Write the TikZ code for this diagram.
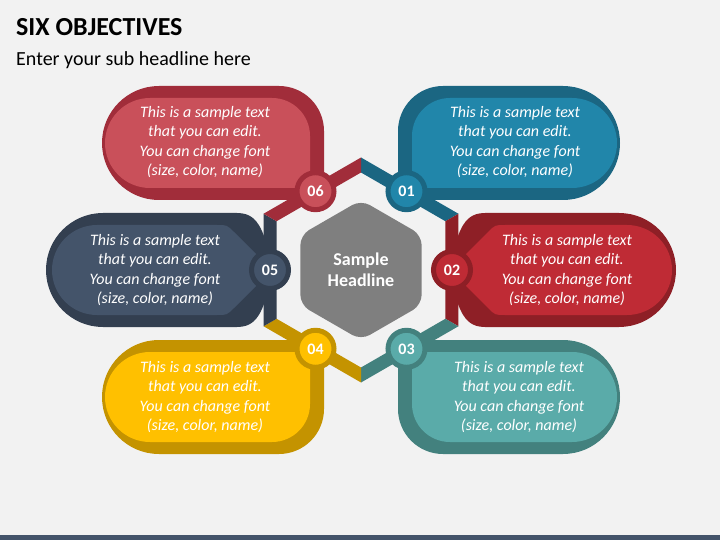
\documentclass[tikz,border=0pt]{standalone}
\usepackage{fontspec}
\setmainfont{Carlito}
\usetikzlibrary{shapes.geometric}

\definecolor{bg}{HTML}{F2F2F2}
\definecolor{blueD}{HTML}{1B6682}
\definecolor{blueL}{HTML}{2186AA}
\definecolor{redD}{HTML}{8E1F26}
\definecolor{redL}{HTML}{BF2B35}
\definecolor{tealD}{HTML}{43817E}
\definecolor{tealL}{HTML}{5AABA9}
\definecolor{yelD}{HTML}{C49300}
\definecolor{yelL}{HTML}{FFC000}
\definecolor{slateD}{HTML}{333F50}
\definecolor{slateL}{HTML}{44546A}
\definecolor{roseD}{HTML}{A12D3A}
\definecolor{roseL}{HTML}{C9505A}
\definecolor{hexgray}{HTML}{7F7F7F}

\tikzset{
  num/.style={circle, inner sep=0pt, minimum size=37pt, line width=5pt, text=white,
    font=\fontsize{16}{16}\selectfont\bfseries},
  body/.style={text=white, align=center, inner sep=0pt,
    font=\fontsize{16}{19.5}\selectfont\itshape}
}

\begin{document}
\begin{tikzpicture}[x=1pt, y=-1pt]
  \useasboundingbox (0,0) rectangle (720,540);
  \fill[bg] (0,0) rectangle (720,540);
  \fill[slateL] (0,535) rectangle (720,540);

  % headings
  \node[anchor=base west, inner sep=0pt, font=\fontsize{26}{26}\selectfont\bfseries] (title) at (16,36) {SIX OBJECTIVES};
  \node[anchor=base west, inner sep=0pt, font=\fontsize{20}{20}\selectfont] (sub) at (16,66) {Enter your sub headline here};

  % ring
  \begin{scope}[shift={(361,270)}]
    \foreach \a/\c in {-60/blueD, 0/redD, 60/tealD, 120/yelD, 180/slateD, 240/roseD}
      \fill[\c] ({\a-30}:112.5) -- ({\a+30}:112.5) -- ({\a+30}:97.5) -- ({\a-30}:97.5) -- cycle;
  \end{scope}

  % bubbles
  \fill[blueD] (398,200) -- (398,131) arc[start angle=180, end angle=270, radius=45]
    -- (563,86) arc[start angle=270, end angle=450, radius=57] -- cycle;
  \fill[blueL] (412,188) -- (412,136) arc[start angle=180, end angle=270, radius=38]
    -- (572,98) arc[start angle=270, end angle=450, radius=45] -- cycle;

  \fill[roseD] (324,200) -- (324,131) arc[start angle=0, end angle=-90, radius=45]
    -- (159,86) arc[start angle=270, end angle=90, radius=57] -- cycle;
  \fill[roseL] (310,188) -- (310,136) arc[start angle=0, end angle=-90, radius=38]
    -- (150,98) arc[start angle=270, end angle=90, radius=45] -- cycle;

  \fill[tealD] (398,340) -- (398,409) arc[start angle=180, end angle=90, radius=45]
    -- (563,454) arc[start angle=90, end angle=-90, radius=57] -- cycle;
  \fill[tealL] (412,352) -- (412,404) arc[start angle=180, end angle=90, radius=38]
    -- (572,442) arc[start angle=90, end angle=-90, radius=45] -- cycle;

  \fill[yelD] (324,340) -- (324,409) arc[start angle=0, end angle=90, radius=45]
    -- (159,454) arc[start angle=90, end angle=270, radius=57] -- cycle;
  \fill[yelL] (310,352) -- (310,404) arc[start angle=0, end angle=90, radius=38]
    -- (150,442) arc[start angle=90, end angle=270, radius=45] -- cycle;

  \fill[redD] (452,240) -- (458,236) .. controls (464,220) and (471,213) .. (485,213)
    -- (619,213) arc[start angle=270, end angle=450, radius=57]
    -- (485,327) .. controls (471,327) and (464,320) .. (458,304) -- (452,300) -- cycle;
  \fill[redL] (450,270) -- (488,232) .. controls (495,225) .. (505,225)
    -- (627,225) arc[start angle=270, end angle=450, radius=45]
    -- (505,315) .. controls (495,315) .. (488,308) -- cycle;

  \fill[slateD] (270,240) -- (264,236) .. controls (258,220) and (251,213) .. (237,213)
    -- (103,213) arc[start angle=270, end angle=90, radius=57]
    -- (237,327) .. controls (251,327) and (258,320) .. (264,304) -- (270,300) -- cycle;
  \fill[slateL] (272,270) -- (234,232) .. controls (227,225) .. (217,225)
    -- (97,225) arc[start angle=270, end angle=90, radius=45]
    -- (217,315) .. controls (227,315) .. (234,308) -- cycle;

  % centre and numbers
  \begin{scope}[shift={(361,270)}]
    \node[regular polygon, regular polygon sides=6, shape border rotate=90, minimum size=140pt,
      inner sep=0pt, rounded corners=10pt, fill=hexgray, text=white, align=center,
      font=\fontsize{18}{21}\selectfont\bfseries] (head) at (0,0) {Sample\\Headline};
    \foreach \n/\a/\d/\l in {01/-60/blueD/blueL, 02/0/redD/redL, 03/60/tealD/tealL,
                             04/120/yelD/yelL, 05/180/slateD/slateL, 06/240/roseD/roseL}
      \node[num, draw=\d, fill=\l] (n\n) at (\a:91) {\n};
  \end{scope}

  % texts
  \node[body] (t01) at (515,142) {This is a sample text\\that you can edit.\\You can change font\\(size, color, name)};
  \node[body] (t02) at (567,270) {This is a sample text\\that you can edit.\\You can change font\\(size, color, name)};
  \node[body] (t03) at (519,397) {This is a sample text\\that you can edit.\\You can change font\\(size, color, name)};
  \node[body] (t04) at (205,397) {This is a sample text\\that you can edit.\\You can change font\\(size, color, name)};
  \node[body] (t05) at (155,270) {This is a sample text\\that you can edit.\\You can change font\\(size, color, name)};
  \node[body] (t06) at (205,142) {This is a sample text\\that you can edit.\\You can change font\\(size, color, name)};
\end{tikzpicture}
\end{document}
